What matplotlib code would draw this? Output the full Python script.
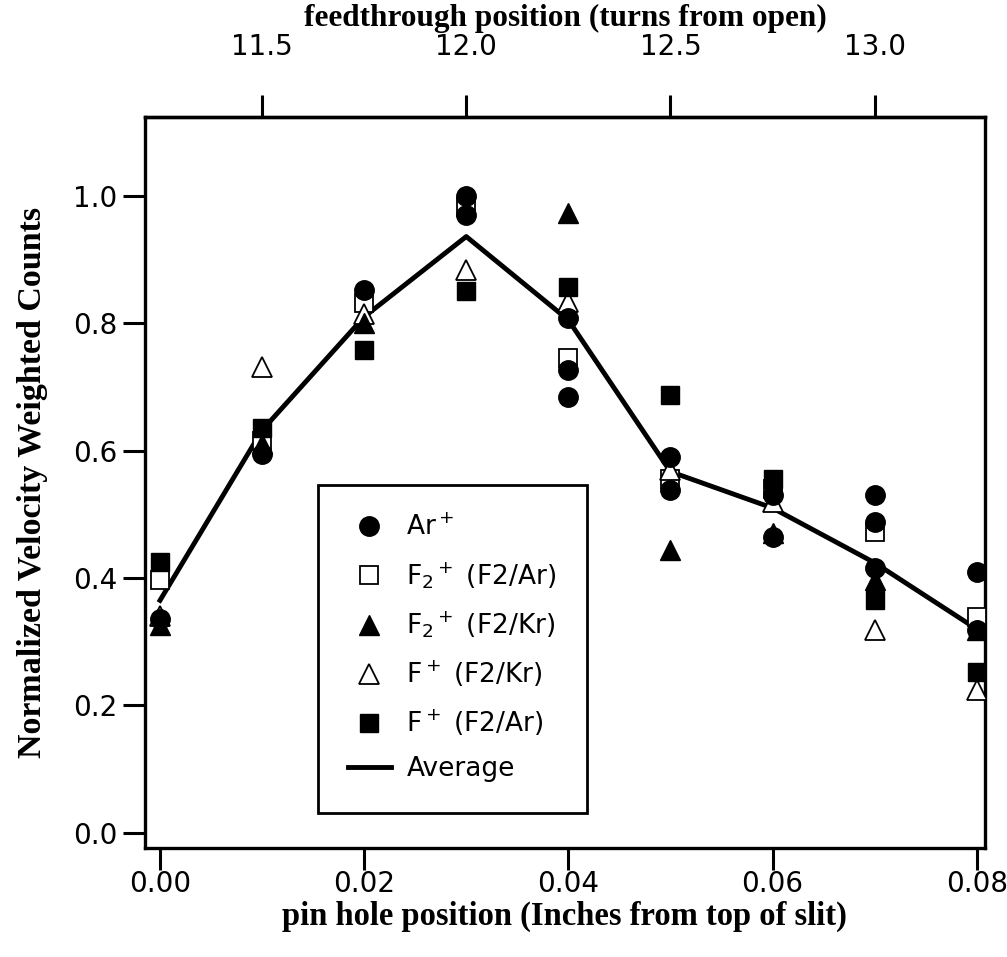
import numpy as np
import matplotlib
matplotlib.use("Agg")
import matplotlib.pyplot as plt

plt.rcParams['mathtext.default'] = 'regular'

# pin hole positions (inches from top of slit)
positions = [0.00, 0.01, 0.02, 0.03, 0.04, 0.05, 0.06, 0.07, 0.08]

# Ar+ (several measurements at some positions)
ar_x = [0.00, 0.01, 0.02, 0.03, 0.03, 0.04, 0.04, 0.04, 0.05, 0.05,
        0.06, 0.06, 0.07, 0.07, 0.07, 0.08, 0.08]
ar_y = [0.335, 0.595, 0.852, 1.000, 0.970, 0.808, 0.727, 0.684, 0.590, 0.538,
        0.530, 0.465, 0.531, 0.488, 0.416, 0.410, 0.319]

f2_ar = [0.397, 0.615, 0.832, 0.983, 0.745, 0.556, 0.540, 0.473, 0.339]   # F2+ (F2/Ar) open squares
f2_kr = [0.327, 0.610, 0.800, np.nan, 0.973, 0.444, 0.470, 0.397, 0.318]  # F2+ (F2/Kr) filled triangles
f_kr = [0.340, 0.732, 0.815, 0.884, 0.834, 0.570, 0.520, 0.319, 0.224]    # F+ (F2/Kr) open triangles
f_ar = [0.425, 0.636, 0.758, 0.851, 0.857, 0.688, 0.555, 0.366, 0.253]    # F+ (F2/Ar) filled squares
average = [0.365, 0.632, 0.810, 0.936, 0.805, 0.567, 0.510, 0.424, 0.320]

top_ticks = [11.5, 12.0, 12.5, 13.0]
x_ticks = [0.00, 0.02, 0.04, 0.06, 0.08]
y_ticks = [0.0, 0.2, 0.4, 0.6, 0.8, 1.0]

fig = plt.figure(figsize=(10.07, 9.57), dpi=100)
ax = fig.add_axes([0.144, 0.114, 0.834, 0.764])

ms = 14
ax.plot(positions, average, color='black', lw=3.5, zorder=2, label='Average')
ax.plot(positions, f2_ar, 's', ms=ms - 1, mfc='white', mec='black', mew=1.3, zorder=3,
        label='F$_2$$^+$ (F2/Ar)')
ax.plot(positions, f_kr, '^', ms=ms, mfc='white', mec='black', mew=1.3, zorder=3,
        label='F$^+$ (F2/Kr)')
ax.plot(positions, f2_kr, '^', ms=ms, color='black', zorder=4, label='F$_2$$^+$ (F2/Kr)')
ax.plot(positions, f_ar, 's', ms=ms - 1, color='black', zorder=4, label='F$^+$ (F2/Ar)')
ax.plot(ar_x, ar_y, 'o', ms=ms, color='black', zorder=5, label='Ar$^+$')

ax.set_xlim(-0.00147, 0.0808)
ax.set_ylim(-0.0235, 1.124)
ax.set_xticks(x_ticks)
ax.set_xticklabels([f'{v:.2f}' for v in x_ticks])
ax.set_yticks(y_ticks)
ax.set_yticklabels([f'{v:.1f}' for v in y_ticks])

for s in ax.spines.values():
    s.set_linewidth(2.4)
ax.tick_params(direction='out', length=16, width=2.2, labelsize=20, pad=4)
ax.tick_params(axis='x', pad=0)

serif = ['Liberation Serif', 'DejaVu Serif']
ax.set_xlabel('pin hole position (Inches from top of slit)', fontsize=23.5,
              fontweight='bold', family=serif, labelpad=2)
ax.set_ylabel('Normalized Velocity Weighted Counts', fontsize=24.5,
              fontweight='bold', family=serif, labelpad=18)

top = ax.secondary_xaxis('top', functions=(lambda x: 11.25 + 25 * x,
                                           lambda t: (t - 11.25) / 25))
top.set_xticks(top_ticks)
top.set_xticklabels([f'{v:.1f}' for v in top_ticks])
top.tick_params(direction='out', length=16, width=2.2, labelsize=20, pad=24)
top.spines['top'].set_linewidth(2.4)
top.set_xlabel('feedthrough position (turns from open)', fontsize=22.5,
               fontweight='bold', family=serif, labelpad=5)

handles, labels = ax.get_legend_handles_labels()
order = ['Ar$^+$', 'F$_2$$^+$ (F2/Ar)', 'F$_2$$^+$ (F2/Kr)', 'F$^+$ (F2/Kr)',
         'F$^+$ (F2/Ar)', 'Average']
hmap = dict(zip(labels, handles))
leg = ax.legend([hmap[k] for k in order], order, loc='lower left',
                bbox_to_anchor=(0.206, 0.048), fontsize=19, frameon=True,
                fancybox=False, edgecolor='black', framealpha=1,
                handlelength=1.6, handletextpad=0.6, labelspacing=0.7,
                borderpad=1.15, borderaxespad=0)
leg.get_frame().set_linewidth(2)

fig.savefig('out.png', dpi=100)
